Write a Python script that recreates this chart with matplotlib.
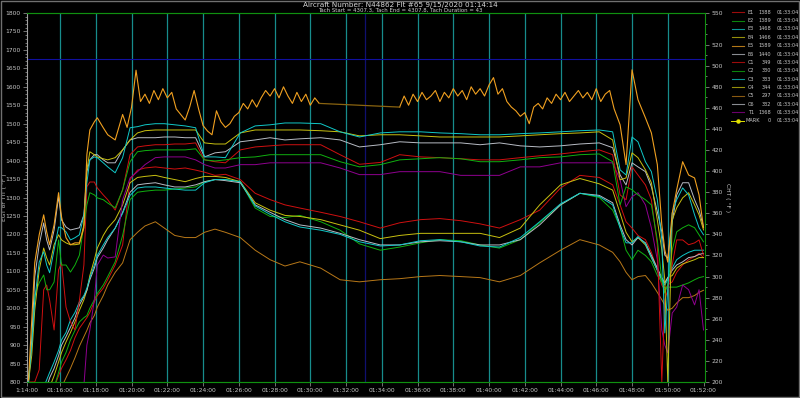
import numpy as np
import pandas as pd
import matplotlib
matplotlib.use("Agg")
import matplotlib.pyplot as plt
import matplotlib.dates as mdates
from matplotlib.lines import Line2D
from matplotlib.patches import Rectangle

# sample times (9/15/2020)
times = ["01:14:14", "01:14:25", "01:14:35", "01:14:50", "01:15:05", "01:15:15", "01:15:25", "01:15:40",
         "01:15:55", "01:16:05", "01:16:20", "01:16:35", "01:16:50", "01:17:05", "01:17:20", "01:17:30",
         "01:17:40", "01:17:55", "01:18:05", "01:18:25", "01:18:40", "01:19:05", "01:19:30", "01:19:55",
         "01:20:20", "01:20:45", "01:21:20", "01:21:50", "01:22:25", "01:23:00", "01:23:35", "01:24:05",
         "01:24:40", "01:25:15", "01:26:05", "01:26:55", "01:27:45", "01:28:35", "01:29:25", "01:30:35",
         "01:31:40", "01:32:45", "01:33:55", "01:35:00", "01:36:10", "01:37:15", "01:38:25", "01:39:30",
         "01:40:35", "01:41:45", "01:42:50", "01:44:00", "01:45:05", "01:46:10", "01:46:55", "01:47:20",
         "01:47:40", "01:48:00", "01:48:20", "01:48:45", "01:49:05", "01:49:25", "01:49:40", "01:49:50",
         "01:50:00", "01:50:15", "01:50:30", "01:50:50", "01:51:10", "01:51:30", "01:51:45", "01:52:00"]

# EGT / TIT (deg F)
e1 = [800, 800, 800, 833, 1050, 1063, 1022, 941, 1104, 1123, 1003, 963, 941, 1022, 1117, 1329,
      1342, 1342, 1326, 1307, 1294, 1266, 1321, 1416, 1437, 1440, 1443, 1443, 1445, 1445, 1448, 1402,
      1397, 1394, 1429, 1437, 1440, 1443, 1443, 1443, 1416, 1390, 1395, 1416, 1410, 1408, 1405, 1402,
      1402, 1408, 1413, 1418, 1424, 1429, 1416, 1307, 1294, 1383, 1361, 1334, 1294, 1172, 800, 1022,
      1050, 1117, 1185, 1185, 1172, 1177, 1185, 1144]
e2 = [800, 914, 1036, 1069, 1090, 1050, 1050, 1071, 1185, 1117, 1117, 1098, 1117, 1144, 1226, 1280,
      1313, 1307, 1299, 1294, 1285, 1272, 1321, 1397, 1424, 1427, 1429, 1429, 1429, 1429, 1432, 1402,
      1399, 1402, 1408, 1410, 1416, 1416, 1416, 1416, 1397, 1383, 1389, 1402, 1405, 1408, 1405, 1397,
      1397, 1402, 1408, 1410, 1416, 1418, 1397, 1280, 1329, 1321, 1307, 1294, 1280, 1185, 1077, 1041,
      1063, 1158, 1207, 1218, 1226, 1218, 1199, 1180]
e3 = [800, 900, 1022, 1125, 1153, 1117, 1096, 1158, 1220, 1218, 1207, 1185, 1191, 1199, 1253, 1340,
      1402, 1410, 1408, 1394, 1383, 1367, 1408, 1489, 1492, 1497, 1500, 1500, 1497, 1494, 1489, 1410,
      1410, 1408, 1475, 1494, 1497, 1502, 1502, 1500, 1478, 1464, 1475, 1478, 1478, 1475, 1473, 1470,
      1470, 1473, 1475, 1478, 1481, 1483, 1478, 1375, 1361, 1464, 1451, 1397, 1370, 1294, 1185, 933,
      1050, 1258, 1294, 1326, 1307, 1253, 1218, 1199]
e4 = [800, 873, 995, 1104, 1163, 1136, 1117, 1172, 1199, 1185, 1177, 1172, 1172, 1174, 1226, 1375,
      1424, 1416, 1410, 1405, 1402, 1408, 1429, 1456, 1475, 1481, 1483, 1483, 1483, 1483, 1483, 1448,
      1445, 1445, 1475, 1483, 1483, 1483, 1483, 1481, 1478, 1467, 1470, 1470, 1467, 1464, 1464, 1464,
      1464, 1467, 1470, 1473, 1475, 1478, 1456, 1348, 1353, 1421, 1408, 1375, 1340, 1239, 1158, 1077,
      800, 1239, 1272, 1299, 1313, 1280, 1253, 1212]
e6 = [800, 914, 1085, 1172, 1231, 1185, 1158, 1212, 1302, 1239, 1220, 1212, 1215, 1218, 1253, 1370,
      1402, 1416, 1416, 1402, 1394, 1394, 1429, 1456, 1462, 1462, 1462, 1464, 1464, 1462, 1462, 1410,
      1421, 1424, 1451, 1456, 1462, 1456, 1459, 1462, 1456, 1437, 1443, 1451, 1448, 1448, 1448, 1443,
      1448, 1440, 1437, 1440, 1445, 1448, 1435, 1361, 1334, 1394, 1383, 1370, 1329, 1261, 1207, 1144,
      1136, 1234, 1307, 1340, 1340, 1294, 1266, 1220]
t1 = [790, 790, 790, 790, 790, 790, 790, 790, 790, 790, 790, 790, 790, 790, 790, 900,
      941, 1022, 1117, 1144, 1136, 1139, 1294, 1353, 1370, 1389, 1408, 1410, 1410, 1410, 1402, 1389,
      1380, 1380, 1389, 1389, 1394, 1394, 1394, 1394, 1380, 1362, 1362, 1370, 1370, 1370, 1360, 1360,
      1360, 1383, 1383, 1394, 1394, 1394, 1394, 1348, 1275, 1302, 1313, 1280, 1218, 1131, 941, 900,
      879, 987, 1003, 1063, 1050, 1009, 1050, 941]

# E5 is sampled more finely: climb (times[:22]), two cruise legs every 15 s, descent (times[55:])
e5_climb = [805, 968, 1123, 1199, 1253, 1207, 1172, 1226, 1313, 1247, 1191, 1172, 1177, 1177, 1218, 1416,
            1483, 1505, 1516, 1489, 1470, 1456]
e5_leg1 = [1525, 1490, 1545, 1645, 1560, 1580, 1555, 1590, 1565, 1595, 1570, 1585, 1540, 1525, 1510,
           1545, 1590, 1540, 1495, 1480, 1470, 1535, 1505, 1490, 1500, 1520, 1530, 1555, 1540, 1565,
           1545, 1570, 1590, 1575, 1595, 1570, 1600, 1575, 1555, 1585, 1560, 1580, 1550, 1570, 1555]
e5_leg2 = [1545, 1575, 1550, 1580, 1560, 1585, 1565, 1575, 1590, 1560, 1585, 1570, 1595, 1575, 1590,
           1565, 1600, 1580, 1595, 1575, 1605, 1625, 1580, 1595, 1560, 1545, 1535, 1520, 1530, 1500,
           1545, 1555, 1540, 1570, 1555, 1580, 1565, 1585, 1560, 1575, 1590, 1570, 1585, 1565, 1595,
           1560, 1580, 1590, 1540]
e5_desc = [1497, 1389, 1646, 1565, 1516, 1475, 1389, 1226, 1158, 1125, 1258, 1321, 1397, 1361, 1353,
           1307, 1218]
leg1_span = ["01:19:30", "01:30:30"]
leg2_span = ["01:35:00", "01:47:00"]

# CHT (deg F)
c1 = [195, 195, 195, 195, 195, 195, 195, 195, 206, 213, 221, 230, 242, 251, 257, 261,
      266, 276, 282, 289, 297, 311, 330, 392, 401, 403, 404, 403, 402, 403, 401, 399,
      396, 397, 392, 379, 373, 368, 365, 361, 357, 352, 346, 351, 354, 355, 353, 350,
      346, 354, 363, 384, 396, 394, 387, 368, 352, 346, 339, 335, 323, 306, 292, 287,
      292, 295, 304, 311, 316, 319, 322, 318]
c2 = [195, 195, 195, 195, 195, 195, 195, 195, 209, 219, 228, 240, 249, 257, 261, 263,
      270, 278, 284, 292, 300, 314, 339, 373, 380, 381, 382, 382, 383, 384, 385, 390,
      392, 392, 390, 365, 357, 356, 358, 352, 344, 331, 325, 328, 332, 335, 334, 330,
      327, 335, 351, 368, 379, 375, 363, 347, 325, 316, 325, 320, 314, 301, 295, 289,
      290, 290, 290, 292, 294, 297, 299, 300]
c3 = [195, 195, 195, 195, 195, 202, 209, 219, 230, 240, 247, 259, 266, 276, 282, 289,
      299, 311, 320, 330, 337, 346, 360, 377, 384, 385, 385, 384, 383, 382, 382, 389,
      392, 392, 390, 367, 359, 352, 347, 344, 340, 333, 329, 330, 334, 335, 333, 329,
      328, 337, 352, 369, 379, 376, 368, 346, 332, 332, 338, 331, 318, 306, 297, 292,
      297, 308, 316, 320, 323, 325, 325, 325]
c4 = [195, 195, 195, 195, 195, 195, 195, 206, 219, 228, 238, 247, 257, 268, 278, 287,
      301, 316, 327, 339, 346, 354, 368, 389, 394, 395, 396, 394, 392, 390, 393, 395,
      395, 394, 390, 370, 363, 358, 357, 354, 349, 344, 336, 339, 341, 341, 341, 341,
      337, 346, 368, 387, 393, 388, 382, 360, 342, 333, 337, 330, 318, 306, 297, 294,
      299, 301, 308, 312, 314, 316, 318, 318]
c5 = [195, 195, 195, 195, 195, 195, 195, 195, 195, 195, 204, 213, 223, 234, 243, 249,
      256, 263, 271, 282, 292, 304, 313, 335, 342, 348, 352, 346, 339, 337, 337, 342,
      345, 342, 337, 325, 316, 310, 314, 308, 297, 295, 297, 298, 300, 301, 300, 299,
      295, 301, 313, 325, 335, 330, 323, 314, 304, 297, 300, 301, 294, 285, 278, 273,
      268, 270, 275, 280, 280, 282, 285, 287]
c6 = [195, 195, 195, 195, 195, 195, 204, 213, 225, 235, 243, 252, 261, 273, 281, 287,
      297, 308, 318, 327, 335, 346, 361, 380, 387, 388, 389, 387, 385, 385, 387, 390,
      392, 391, 389, 368, 361, 354, 349, 346, 341, 335, 330, 330, 333, 334, 333, 330,
      330, 335, 349, 368, 379, 377, 370, 349, 335, 330, 337, 332, 320, 308, 299, 294,
      299, 306, 311, 314, 318, 319, 321, 322]

mark_time = "01:33:04"
egt_limit = 1675

legend_names = ["E1", "E2", "E3", "E4", "E5", "E6", "C1", "C2", "C3", "C4", "C5", "C6", "T1", "MARK"]
legend_values = ["1388", "1389", "1468", "1466", "1589", "1440", "349", "330", "333", "344", "297",
                 "332", "1368", "0"]

RED, GREEN, CYAN, OLIVE, GRAY, PURPLE = "#d01010", "#10b010", "#10c8c8", "#c8c010", "#b8bcc4", "#900090"
colors = {"E1": RED, "E2": GREEN, "E3": CYAN, "E4": OLIVE, "E5": "#f0a020", "E6": GRAY,
          "C1": RED, "C2": GREEN, "C3": CYAN, "C4": OLIVE, "C5": "#b87818", "C6": GRAY, "T1": PURPLE}


def tnum(s):
    return mdates.date2num(pd.Timestamp("2020-09-15 " + s))


def span(a, b):
    return list(mdates.date2num(pd.date_range("2020-09-15 " + a, "2020-09-15 " + b, freq="15s")))


def egt_on_cht(v):
    # left axis 800..1800 drawn on the right axis 200..550
    return (np.asarray(v, dtype=float) - 800) / 1000 * 350 + 200


x = np.array([tnum(t) for t in times])

fig = plt.figure(figsize=(8.0, 3.98), dpi=100, facecolor="black")
ax = fig.add_axes([27 / 800, 1 - 382 / 398, (705 - 27) / 800, (382 - 13) / 398])
ax.set_facecolor("black")
ax2 = ax.twinx()
ax2.patch.set_visible(False)

x0, x1 = tnum("01:14:09"), tnum("01:52:05")

# grid / marker lines
for m in range(16, 52, 2):
    ax.axvline(tnum("01:%02d:00" % m), color="#178c8c", lw=0.9, zorder=1)
ax.axvline(tnum(mark_time), color="#101070", lw=0.9, zorder=1)
ax.axhline(egt_limit, color="#1010a0", lw=0.8, zorder=1)

lw = 0.7
egt = {"T1": t1, "E1": e1, "E2": e2, "E6": e6, "E4": e4, "E3": e3}
cht = {"C5": c5, "C1": c1, "C2": c2, "C4": c4, "C6": c6, "C3": c3}
for k, v in cht.items():
    ax2.plot(x, v, color=colors[k], lw=lw, zorder=3)
for k, v in egt.items():
    ax2.plot(x, egt_on_cht(v), color=colors[k], lw=lw, zorder=3)

# E5: climb + leg 1, then leg 2 + descent, with the drop-out bridged in a dimmer tone
xa = list(x[:22]) + span(*leg1_span)
ya = egt_on_cht(e5_climb + e5_leg1)
xb = span(*leg2_span) + list(x[55:])
yb = egt_on_cht(e5_leg2 + e5_desc)
ax2.plot(xa, ya, color=colors["E5"], lw=0.8, zorder=4)
ax2.plot(xb, yb, color=colors["E5"], lw=0.8, zorder=4)
ax2.plot([xa[-1], xb[0]], [ya[-1], yb[0]], color="#8a6410", lw=0.9, zorder=4)

ax.set_xlim(x0, x1)
ax.set_ylim(800, 1800)
ax2.set_ylim(200, 550)

tc = "#c8c8c8"
ax.set_yticks(np.arange(800, 1801, 50))
ax.set_yticks(np.arange(800, 1801, 10), minor=True)
ax2.set_yticks(list(range(200, 540, 20)) + [550])
ax2.set_yticks(np.arange(200, 551, 10), minor=True)
xt = [x0] + [tnum("01:%02d:00" % m) for m in range(16, 53, 2)]
ax.set_xticks(xt)
ax.set_xticklabels(["1:14:00"] + ["01:%02d:00" % m for m in range(16, 53, 2)])

for a in (ax, ax2):
    a.tick_params(which="major", length=3, width=0.5, color="#a0a0a0", labelsize=4.3,
                  labelcolor=tc, pad=1.5)
    a.tick_params(which="minor", length=1.5, width=0.5, color="#a0a0a0")
    for s in a.spines.values():
        s.set_linewidth(0.8)
ax.spines["left"].set_color("#a0a0a0")
for side in ("top", "bottom"):
    ax.spines[side].set_color("#109010")
    ax2.spines[side].set_color("#109010")
ax2.spines["right"].set_color("#109010")
ax2.spines["left"].set_visible(False)

ax.set_ylabel("EGT or TIT ( °F )", fontsize=4.3, color=tc)
ax.yaxis.set_label_coords(-20 / 678, 0.5)
ax2.set_ylabel("CHT ( °F )", fontsize=4.3, color=tc, rotation=270, va="bottom")
ax2.yaxis.set_label_coords(1 + 20 / 678, 0.5)

fig.text(0.5, 1 - 4.5 / 398, "Aircraft Number: N44862 Flt #65 9/15/2020 01:14:14", ha="center",
         va="center", fontsize=5.2, color="#d8d8d8")
fig.text(0.5, 1 - 10.5 / 398, "Tach Start = 4307.3, Tach End = 4307.8, Tach Duration = 43",
         ha="center", va="center", fontsize=3.9, color="#d0d0d0")

# legend panel
fs = 3.6
for i, (name, val) in enumerate(zip(legend_names, legend_values)):
    yy = 1 - (12.3 + i * 8.34) / 398
    if name == "MARK":
        fig.add_artist(Line2D([731 / 800, 744 / 800], [yy, yy], color="#e0e000", lw=0.7,
                              transform=fig.transFigure))
        fig.add_artist(Line2D([737.5 / 800], [yy], color="#e0e000", marker="o", markersize=2.2,
                              transform=fig.transFigure))
        fig.text(746 / 800, yy, name, fontsize=fs, color=tc, va="center", ha="left")
    else:
        fig.add_artist(Line2D([732 / 800, 744 / 800], [yy, yy], color=colors[name], lw=0.8,
                              alpha=0.75, transform=fig.transFigure))
        fig.text(748 / 800, yy, name, fontsize=fs, color=tc, va="center", ha="left")
    fig.text(771 / 800, yy, val, fontsize=fs, color=tc, va="center", ha="right")
    fig.text(777 / 800, yy, mark_time, fontsize=fs, color=tc, va="center", ha="left")

fig.add_artist(Rectangle((0.001, 0.002), 0.998, 0.996, transform=fig.transFigure, fill=False,
                         edgecolor="#707070", lw=1.0))

fig.savefig("out.png", dpi=100, facecolor="black")
